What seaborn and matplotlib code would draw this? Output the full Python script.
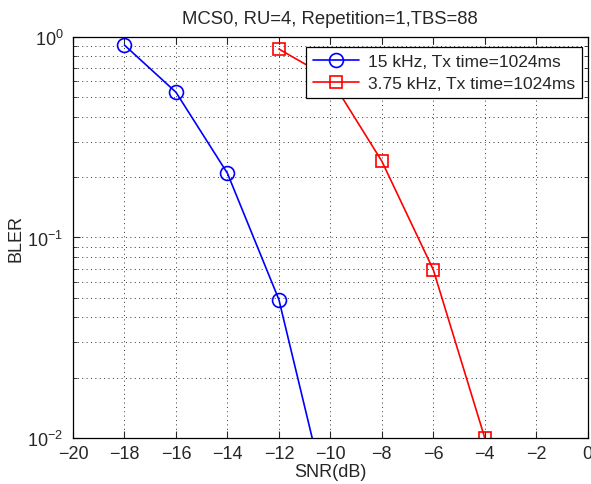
import matplotlib
matplotlib.use("Agg")
import matplotlib.pyplot as plt
import seaborn as sns
import pandas as pd
import numpy as np
from matplotlib.ticker import LogLocator, NullFormatter

sns.set_style("white")
plt.rcParams['font.family'] = ['Liberation Sans', 'DejaVu Sans']

snr_15 = [-18, -16, -14, -12, -10]
bler_15 = [0.91, 0.53, 0.209, 0.049, 0.0042]
snr_375 = [-12, -10, -8, -6, -4]
bler_375 = [0.87, 0.62, 0.24, 0.069, 0.01]
label_15 = "15 kHz, Tx time=1024ms"
label_375 = "3.75 kHz, Tx time=1024ms"
title = "MCS0, RU=4, Repetition=1,TBS=88"
xticks = list(range(-20, 1, 2))

df15 = pd.DataFrame({"snr": snr_15, "bler": bler_15})
df375 = pd.DataFrame({"snr": snr_375, "bler": bler_375})

fig = plt.figure(figsize=(5.91, 4.85), dpi=100)
ax = fig.add_axes([0.1235, 0.0948, 0.871, 0.827])

sns.lineplot(data=df15, x="snr", y="bler", ax=ax, color="#0000ff", marker="o",
             markersize=10, markerfacecolor="none", markeredgecolor="#0000ff",
             markeredgewidth=1.2, linewidth=1.2, label=label_15)
sns.lineplot(data=df375, x="snr", y="bler", ax=ax, color="#ff0000", marker="s",
             markersize=8, markerfacecolor="none", markeredgecolor="#ff0000",
             markeredgewidth=1.2, linewidth=1.2, label=label_375)

ax.set_yscale("log")
ax.set_xlim(-20, 0)
ax.set_ylim(0.01, 1)
ax.set_xticks(xticks)
ax.set_xticklabels([("\u2212" + str(abs(t))) if t < 0 else str(t) for t in xticks], fontsize=13)
ax.yaxis.set_major_locator(LogLocator(base=10, numticks=10))
ax.yaxis.set_minor_locator(LogLocator(base=10, subs=np.arange(2, 10), numticks=20))
ax.yaxis.set_minor_formatter(NullFormatter())
ax.tick_params(axis="y", which="major", labelsize=13, pad=7)
ax.tick_params(axis="x", which="major", pad=5)
ax.tick_params(which="both", direction="in", top=True, right=True, bottom=True, left=True)
ax.tick_params(which="major", length=5, width=0.8)
ax.tick_params(which="minor", length=3, width=0.6)

ax.grid(True, which="major", linestyle=(0, (1, 3.5)), color="#333333", linewidth=0.7)
ax.grid(True, which="minor", axis="y", linestyle=(0, (1, 3.5)), color="#333333", linewidth=0.7)

for s in ax.spines.values():
    s.set_color("black")
    s.set_linewidth(0.9)

ax.set_xlabel("SNR(dB)", fontsize=13, labelpad=1)
ax.set_ylabel("BLER", fontsize=13, labelpad=2)
ax.set_title(title, fontsize=13.3, pad=10)

leg = ax.legend(loc="upper right", bbox_to_anchor=(0.988, 0.975), fontsize=12.5,
                frameon=True, fancybox=False, edgecolor="black", framealpha=1,
                borderaxespad=0.0, handlelength=2.65, handletextpad=0.5,
                borderpad=0.4, labelspacing=0.42)
leg.get_frame().set_linewidth(0.9)

fig.savefig("out.png", dpi=100)
